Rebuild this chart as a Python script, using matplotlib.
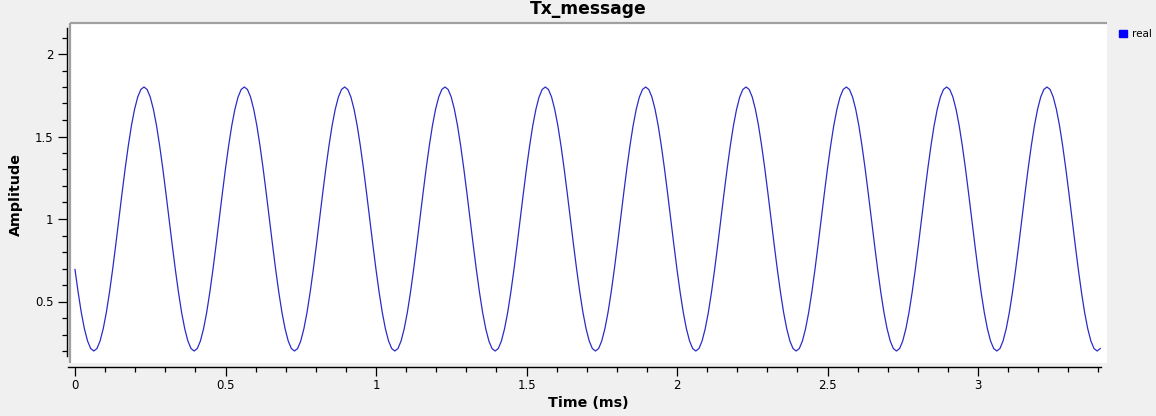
import matplotlib
matplotlib.use("Agg")
import matplotlib.pyplot as plt
import numpy as np
from matplotlib.ticker import MultipleLocator
from matplotlib.patches import Patch

# One period of the message tone (starts at the trough)
period_values = [0.200, 0.215, 0.261, 0.335, 0.434, 0.556, 0.694, 0.844,
                 1.000, 1.156, 1.306, 1.444, 1.566, 1.665, 1.739, 1.785,
                 1.800, 1.785, 1.739, 1.665, 1.566, 1.444, 1.306, 1.156,
                 1.000, 0.844, 0.694, 0.556, 0.434, 0.335, 0.261, 0.215]
period_ms = 1.0 / 3.0      # 3 kHz tone
start_index = 26           # trace starts on the falling edge (~0.67)
n_samples = 328            # trace runs to ~3.41 ms

series_name = "real"
title = "Tx_message"
x_label = "Time (ms)"
y_label = "Amplitude"

values = np.tile(period_values, n_samples // len(period_values) + 2)
values = values[start_index:start_index + n_samples]
dt = period_ms / len(period_values)
t = np.arange(n_samples) * dt

W, H = 1156, 416
fig = plt.figure(figsize=(W / 100, H / 100), dpi=100, facecolor="#f0f0f0")

# canvas area in pixels
cx0, cx1, cy0, cy1 = 70, 1107, 23, 363
ax = fig.add_axes([cx0 / W, 1 - cy1 / H, (cx1 - cx0) / W, (cy1 - cy0) / H])
ax.set_facecolor("white")

ax.plot(t, values, color="#2b2bc8", lw=0.9)

# scale: x 0 at px 75, 301 px per ms ; y 2 at px 54, 165 px per unit
ax.set_xlim((cx0 - 75) / 301, (cx1 - 75) / 301)
ax.set_ylim(2 - (cy1 - 54) / 165, 2 + (54 - cy0) / 165)

for s in ["top", "right"]:
    ax.spines[s].set_visible(False)
ax.spines["left"].set_position(("outward", 2.2))
ax.spines["bottom"].set_position(("outward", 2.9))
ax.spines["left"].set_bounds(0.167, 2.158)
ax.spines["bottom"].set_bounds(-0.023, 3.41)
for s in ["left", "bottom"]:
    ax.spines[s].set_linewidth(1.0)
    ax.spines[s].set_color("black")

# canvas frame (top and left)
ax.plot([0, 0], [0, 1], transform=ax.transAxes, color="#a0a0a0", lw=1.6,
        clip_on=False, solid_capstyle="butt")
ax.plot([0, 1], [1, 1], transform=ax.transAxes, color="#a0a0a0", lw=1.6,
        clip_on=False, solid_capstyle="butt")

ax.xaxis.set_major_locator(MultipleLocator(0.5))
ax.xaxis.set_minor_locator(MultipleLocator(0.1))
ax.yaxis.set_major_locator(MultipleLocator(0.5))
ax.yaxis.set_minor_locator(MultipleLocator(0.1))
ax.xaxis.set_major_formatter(plt.FuncFormatter(lambda v, p: f"{v:g}"))
ax.yaxis.set_major_formatter(plt.FuncFormatter(lambda v, p: f"{v:g}"))

ax.tick_params(axis="both", which="major", direction="out", length=6.3,
               width=0.9, labelsize=8.5, color="black")
ax.tick_params(axis="both", which="minor", direction="out", length=3.4,
               width=0.9, color="black")
ax.tick_params(axis="y", which="major", pad=3.5)
ax.tick_params(axis="x", which="major", pad=2.5)

fig.text(588 / W, 1 - 14 / H, title, ha="center", va="baseline",
         fontsize=12.3, fontweight="bold")
fig.text(588 / W, 1 - 403 / H, x_label, ha="center", va="center",
         fontsize=10.3, fontweight="bold")
fig.text(16 / W, 1 - 194 / H, y_label, ha="center", va="center",
         rotation=90, fontsize=10.3, fontweight="bold")

handles = [Patch(facecolor="#0000ff", edgecolor="#0000ff", label=series_name)]
fig.legend(handles=handles, loc="upper left",
           bbox_to_anchor=(1112 / W, 1 - 22 / H), frameon=False,
           fontsize=7.5, handlelength=0.75, handleheight=0.75,
           handletextpad=0.45, borderpad=0.2)

fig.savefig("out.png", dpi=100, facecolor=fig.get_facecolor())
